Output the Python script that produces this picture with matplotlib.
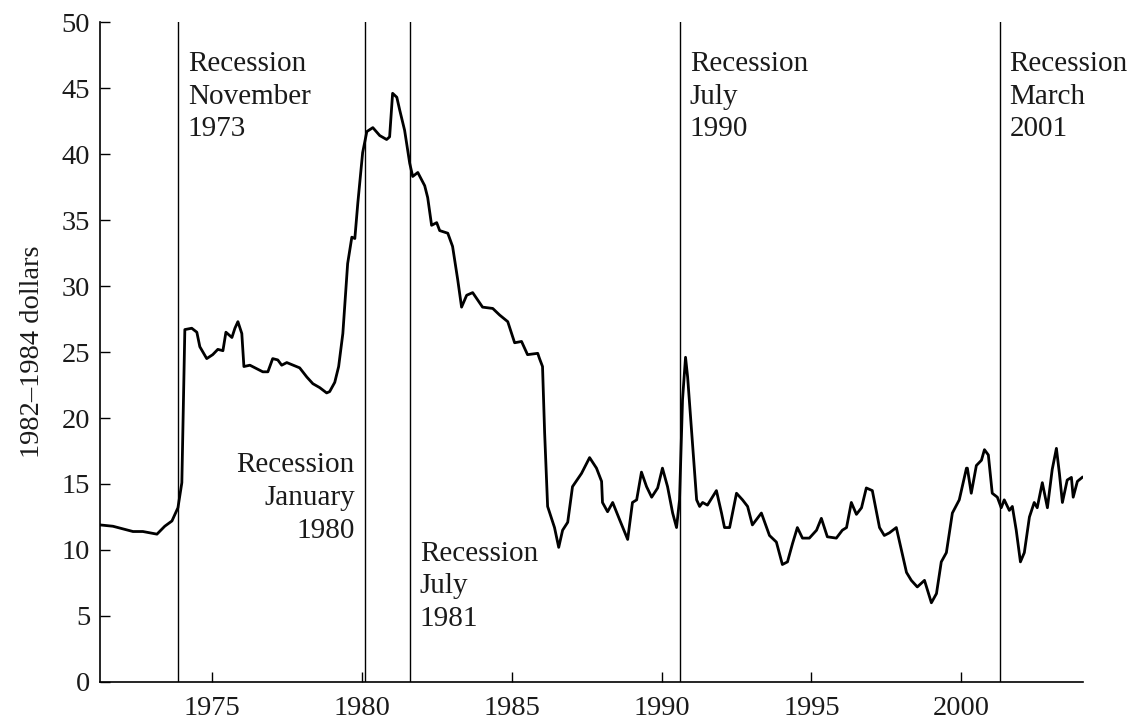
import matplotlib
matplotlib.use("Agg")
import matplotlib.pyplot as plt

years = [1971.27, 1971.7, 1972.37, 1972.7, 1973.17, 1973.43, 1973.67, 1973.87,
         1974.0, 1974.1, 1974.33, 1974.5, 1974.6, 1974.83, 1975.03, 1975.2,
         1975.37, 1975.47, 1975.67, 1975.77, 1975.87, 1976.0, 1976.07, 1976.27,
         1976.7, 1976.87, 1977.03, 1977.2, 1977.33, 1977.5, 1977.93, 1978.17,
         1978.37, 1978.6, 1978.83, 1978.93, 1979.1, 1979.23, 1979.37, 1979.53,
         1979.67, 1979.77, 1979.87, 1980.03, 1980.17, 1980.37, 1980.6, 1980.83,
         1980.93, 1981.03, 1981.17, 1981.27, 1981.43, 1981.6, 1981.7, 1981.87,
         1982.1, 1982.2, 1982.33, 1982.5, 1982.6, 1982.87, 1983.03, 1983.2,
         1983.33, 1983.5, 1983.7, 1984.03, 1984.37, 1984.6, 1984.87, 1985.1,
         1985.33, 1985.53, 1985.87, 1985.93, 1986.03, 1986.1, 1986.2, 1986.43,
         1986.57, 1986.7, 1986.87, 1987.03, 1987.33, 1987.6, 1987.83, 1988.0,
         1988.03, 1988.2, 1988.37, 1988.6, 1988.87, 1989.03, 1989.17, 1989.33,
         1989.5, 1989.67, 1989.87, 1990.03, 1990.2, 1990.37, 1990.5, 1990.6,
         1990.7, 1990.8, 1990.87, 1991.03, 1991.17, 1991.27, 1991.37, 1991.53,
         1991.83, 1992.0, 1992.1, 1992.27, 1992.5, 1992.7, 1992.87, 1993.03,
         1993.33, 1993.6, 1993.83, 1994.03, 1994.2, 1994.37, 1994.53, 1994.7,
         1994.93, 1995.17, 1995.33, 1995.53, 1995.83, 1996.03, 1996.17, 1996.33,
         1996.5, 1996.67, 1996.83, 1997.03, 1997.27, 1997.43, 1997.6, 1997.83,
         1998.0, 1998.17, 1998.33, 1998.53, 1998.77, 1999.0, 1999.17, 1999.33,
         1999.5, 1999.7, 1999.93, 2000.17, 2000.2, 2000.33, 2000.5, 2000.67,
         2000.77, 2000.9, 2001.03, 2001.2, 2001.33, 2001.43, 2001.6, 2001.7,
         2001.83, 2001.97, 2002.1, 2002.27, 2002.43, 2002.53, 2002.7, 2002.87,
         2003.03, 2003.17, 2003.27, 2003.37, 2003.53, 2003.67, 2003.73, 2003.87,
         2004.03]
price = [11.9, 11.8, 11.4, 11.4, 11.2, 11.8, 12.2, 13.2,
         15.1, 26.7, 26.8, 26.5, 25.4, 24.5, 24.8, 25.2,
         25.1, 26.5, 26.1, 26.8, 27.3, 26.4, 23.9, 24.0,
         23.5, 23.5, 24.5, 24.4, 24.0, 24.2, 23.8, 23.1,
         22.6, 22.3, 21.9, 22.0, 22.7, 23.9, 26.4, 31.7,
         33.7, 33.6, 36.3, 40.1, 41.7, 42.0, 41.4, 41.1,
         41.3, 44.6, 44.3, 43.3, 41.8, 39.3, 38.3, 38.6,
         37.6, 36.7, 34.6, 34.8, 34.2, 34.0, 33.0, 30.5,
         28.4, 29.3, 29.5, 28.4, 28.3, 27.8, 27.3, 25.7,
         25.8, 24.8, 24.9, 24.5, 23.9, 18.9, 13.3, 11.7,
         10.2, 11.5, 12.1, 14.8, 15.8, 17.0, 16.2, 15.2,
         13.6, 12.9, 13.6, 12.3, 10.8, 13.6, 13.8, 15.9,
         14.8, 14.0, 14.7, 16.2, 14.8, 12.8, 11.7, 13.8,
         21.4, 24.6, 23.1, 18.1, 13.8, 13.3, 13.6, 13.4,
         14.5, 12.8, 11.7, 11.7, 14.3, 13.8, 13.3, 11.9,
         12.8, 11.1, 10.6, 8.9, 9.1, 10.5, 11.7, 10.9,
         10.9, 11.5, 12.4, 11.0, 10.9, 11.5, 11.7, 13.6,
         12.7, 13.2, 14.7, 14.5, 11.7, 11.1, 11.3, 11.7,
         10.0, 8.3, 7.7, 7.2, 7.7, 6.0, 6.7, 9.1,
         9.8, 12.8, 13.8, 16.2, 16.2, 14.3, 16.4, 16.8,
         17.6, 17.2, 14.3, 14.0, 13.2, 13.8, 13.0, 13.3,
         11.5, 9.1, 9.8, 12.5, 13.6, 13.2, 15.1, 13.2,
         16.1, 17.7, 15.8, 13.6, 15.3, 15.5, 14.0, 15.2,
         15.5]

recession_dates = [1973.87, 1980.1, 1981.6, 1990.6, 2001.29]
recession_labels = ["Recession\nNovember\n1973", "Recession\nJanuary\n1980",
                    "Recession\nJuly\n1981", "Recession\nJuly\n1990",
                    "Recession\nMarch\n2001"]
# label anchor (x, top y, alignment)
label_pos = [(1974.2, 47.8, "left"), (1979.77, 17.4, "right"),
             (1981.94, 10.7, "left"), (1990.94, 47.8, "left"),
             (2001.6, 47.8, "left")]

plt.rcParams['font.family'] = ['Liberation Serif', 'DejaVu Serif']

fig = plt.figure(figsize=(11.35, 7.2), dpi=100)
ax = fig.add_axes([0.0881, 0.0528, 0.8659, 0.9166])

ax.plot(years, price, color="black", lw=2.0, solid_joinstyle="round")

for d in recession_dates:
    ax.axvline(d, color="black", lw=1.0)

for txt, (x, y, ha) in zip(recession_labels, label_pos):
    ax.text(x, y, txt, ha=ha, va="top", multialignment=ha,
            fontsize=21, linespacing=1.33, color="#1a1a1a")

ax.set_xlim(1971.27, 2004.05)
ax.set_ylim(0, 50)
ax.set_xticks([1975, 1980, 1985, 1990, 1995, 2000])
ax.set_yticks(range(0, 51, 5))
ax.tick_params(direction="in", length=7.5, width=1.0, labelsize=20.5,
               colors="black", labelcolor="#1a1a1a")
ax.tick_params(axis="y", pad=7)
ax.tick_params(axis="x", pad=10)

for s in ["top", "right"]:
    ax.spines[s].set_visible(False)
for s in ["left", "bottom"]:
    ax.spines[s].set_linewidth(1.2)

ax.set_ylabel("1982\u20131984 dollars", fontsize=20.5, color="#1a1a1a", labelpad=12)

fig.savefig("out.png", dpi=100)
